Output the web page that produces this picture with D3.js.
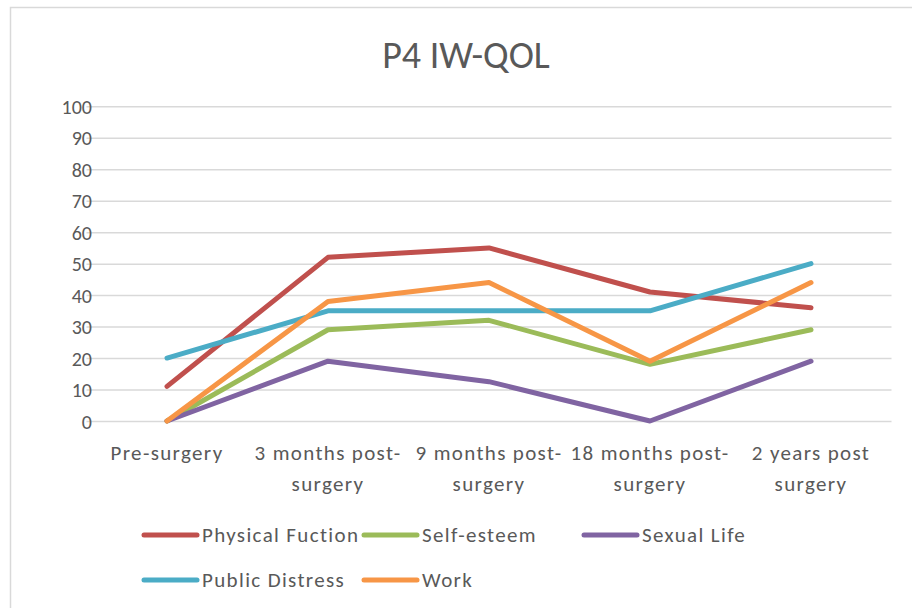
<!DOCTYPE html>
<html>
<head>
<meta charset="utf-8">
<script src="https://cdn.jsdelivr.net/npm/d3@7"></script>
<style>
  html, body { margin: 0; padding: 0; background: #fff; }
  svg { display: block; }
  text { font-family: Carlito, Calibri, "Liberation Sans Narrow", "Open Sans", sans-serif; fill: #595959; }
</style>
</head>
<body>
<svg id="chart" width="912" height="608"></svg>
<script>
// Time points of the IW-QOL assessment
const categories = [
  ["Pre-surgery"],
  ["3 months post-", "surgery"],
  ["9 months post-", "surgery"],
  ["18 months post-", "surgery"],
  ["2 years post", "surgery"]
];
const categoryKeys = ["pre", "m3", "m9", "m18", "y2"];

// Domain scores per time point
const physicalFunction = [11, 52, 55, 41, 36];
const selfEsteem       = [0, 29, 32, 18, 29];
const sexualLife       = [0, 19, 12.5, 0, 19];
const publicDistress   = [20, 35, 35, 35, 50];
const work             = [0, 38, 44, 19, 44];

const yTicks = [0, 10, 20, 30, 40, 50, 60, 70, 80, 90, 100];

const seriesNames  = ["Physical Fuction", "Self-esteem", "Sexual Life", "Public Distress", "Work"];
const seriesValues = [physicalFunction, selfEsteem, sexualLife, publicDistress, work];
const seriesColors = ["#C0504D", "#9BBB59", "#8064A2", "#4BACC6", "#F79646"];

const series = seriesNames.map((name, i) => ({ name, values: seriesValues[i], color: seriesColors[i] }));

const svg = d3.select("#chart");

// outer chart frame
svg.append("rect")
  .attr("x", 10.5).attr("y", 7.5)
  .attr("width", 930).attr("height", 640)
  .attr("fill", "#fff").attr("stroke", "#D9D9D9").attr("stroke-width", 1.5);

// title
svg.append("text")
  .attr("x", 466).attr("y", 68)
  .attr("text-anchor", "middle")
  .style("font-size", "38px")
  .text("P4 IW-QOL");

const plot = { left: 86.5, right: 891.5, top: 106.3, bottom: 421 };

const x = d3.scaleBand().domain(categoryKeys).range([plot.left, plot.right]);
const y = d3.scaleLinear().domain([0, 100]).range([plot.bottom, plot.top]);

// horizontal gridlines and value labels
const yAxis = d3.axisLeft(y).tickValues(yTicks).tickSize(-(plot.right - plot.left));
const gy = svg.append("g").attr("transform", `translate(${plot.left},0)`).call(yAxis);
gy.select(".domain").remove();
gy.selectAll(".tick line").attr("stroke", "#D9D9D9").attr("stroke-width", 1.5);
gy.selectAll(".tick text")
  .attr("x", -(plot.left - 92))
  .attr("dy", "0.35em")
  .style("font-size", "20px")
  .attr("fill", "#595959");

// category labels
const xAxis = d3.axisBottom(x).tickSize(0).tickFormat(() => "");
const gx = svg.append("g").attr("transform", `translate(0,${plot.bottom})`).call(xAxis);
gx.select(".domain").remove();
gx.selectAll(".tick").each(function(d, i) {
  const t = d3.select(this).append("text")
    .attr("text-anchor", "middle")
    .style("font-size", "21px")
    .style("letter-spacing", "1.35px");
  categories[i].forEach((line, j) => {
    t.append("tspan").attr("x", 0).attr("y", 39 + j * 31).text(line);
  });
});

// series lines
const line = d3.line()
  .x((d, i) => x(categoryKeys[i]) + x.bandwidth() / 2)
  .y(d => y(d));

svg.append("g").selectAll("path")
  .data(series)
  .join("path")
  .attr("d", s => line(s.values))
  .attr("fill", "none")
  .attr("stroke", s => s.color)
  .attr("stroke-width", 5)
  .attr("stroke-linejoin", "round")
  .attr("stroke-linecap", "round");

// legend
const legendPos = [[142, 535], [362, 535], [582, 535], [142, 580], [362, 580]];
const lg = svg.append("g").selectAll("g")
  .data(series)
  .join("g")
  .attr("transform", (s, i) => `translate(${legendPos[i][0]},${legendPos[i][1]})`);
lg.append("line")
  .attr("x1", 2).attr("x2", 55)
  .attr("stroke", s => s.color)
  .attr("stroke-width", 5)
  .attr("stroke-linecap", "round");
lg.append("text")
  .attr("x", 60).attr("dy", "0.35em")
  .style("font-size", "21px")
  .style("letter-spacing", "1.35px")
  .text(s => s.name);
</script>
</body>
</html>
